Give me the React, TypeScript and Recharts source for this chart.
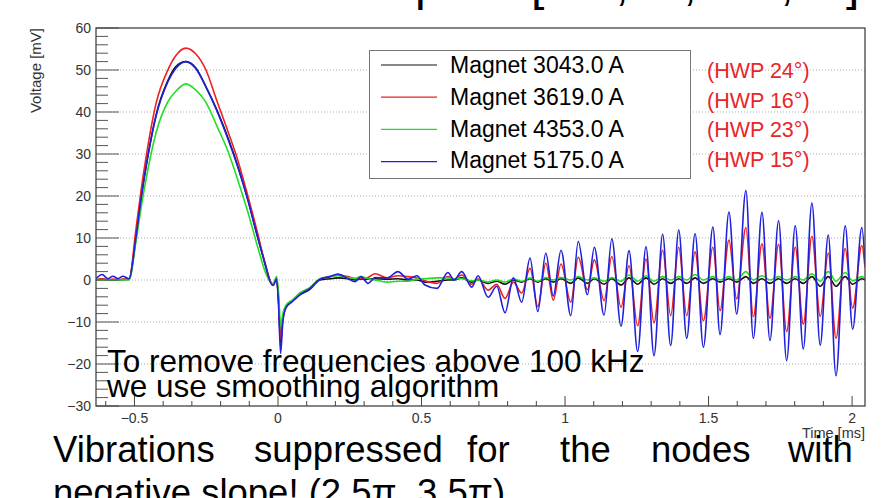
import React from "react";
import { CartesianGrid, Line, LineChart, XAxis, YAxis } from "recharts";

// time axis [ms], shared by all four traces
const timeMs = [
  -0.634, -0.613, -0.592, -0.575, -0.557, -0.54, -0.519,
  -0.495, -0.477, -0.453, -0.425, -0.383, -0.355, -0.321, -0.286, -0.251, -0.213, -0.174, -0.139, -0.105, -0.07, -0.042,
  -0.028, -0.017, -0.005, 0.002, 0.009, 0.017, 0.028, 0.049, 0.077, 0.111, 0.146,
  0.181, 0.209, 0.244, 0.268, 0.289, 0.314, 0.338, 0.38, 0.418, 0.453, 0.484, 0.512, 0.554, 0.592, 0.613,
  0.64, 0.675, 0.697, 0.732, 0.762, 0.791, 0.82, 0.849, 0.878, 0.905,
  0.933, 0.959, 0.986, 1.02, 1.046, 1.078, 1.102, 1.136, 1.163, 1.195,
  1.223, 1.253, 1.282, 1.31, 1.34, 1.368, 1.396, 1.424, 1.453, 1.482,
  1.515, 1.54, 1.571, 1.598, 1.63, 1.656, 1.686, 1.714, 1.744, 1.772,
  1.802, 1.83, 1.86, 1.889, 1.917, 1.944, 1.976, 2.002, 2.034, 2.045,
];

// voltage [mV]
const magnet3043 = [
  0, 0.2, 0, 0, 0, 0.1, 0.2,
  10, 19.4, 29.6, 39.2, 47.6, 50.9, 52, 50.5, 46, 40.5, 33.8, 26.9, 19.2, 10, 3.3,
  -0.2, -1.2, 0.3, -5, -15, -9, -6.5, -5, -3.5, -2.2, 0,
  0.3, 0.5, 0.3, 0, 0.2, 0.2, 0.3, 0.2, 0.3, 0, 0, -0.5, -0.3, 0, 0,
  0.5, -0.5, 0, -0.8, -0.3, -1, 0, -0.5, 0.3, -0.5,
  0.3, -0.5, 0.3, -0.8, 0.5, -0.8, 0.3, -1, 0.3, -1.2,
  0.5, -1, 0.5, -1, 0.3, -0.8, 0.3, -0.8, 0.5, -0.8,
  0.3, -0.5, 0.3, -0.5, 0.8, -0.8, 0.3, -0.8, 0.3, -0.8,
  0.3, -0.8, 0.8, -1.5, 0.8, -1.5, 0.8, -1, 0.3, 0,
];

const magnet3619 = [
  0, 0.3, 0, 0.2, 0, 0.2, 0.2,
  12, 21.3, 32, 42, 50.1, 53.5, 55.2, 53.8, 50, 42.7, 35.3, 28.3, 20, 10.9, 3,
  0, -1, 0.3, -5, -14, -9, -6.5, -5, -3.3, -2, 0.2,
  0.8, 1.2, 0.8, 0.3, 0.3, 0.6, 1.5, 0.5, 1, 0.8, 0.5, -0.2, -0.8, 0.8, 0.2,
  1.2, -1, 0.3, -2.4, -1, -4.4, -0.5, -3.1, 2.8, -6.3,
  4, -4.8, 3.8, -5.3, 5.4, -2.3, 4.8, -4.9, 5.6, -6.5,
  3.4, -10.9, 5, -10.2, 7.1, -8.5, 7.8, -8.5, 6.7, -9.7,
  7.8, -7.3, 9.5, -4.5, 12.5, -8.7, 8.6, -9.1, 8.5, -12.3,
  7.8, -10.5, 10.4, -8.7, 6.4, -13.9, 7.5, -6.7, 8.2, 3,
];

const magnet4353 = [
  0, 0, 0, 0, 0, 0, 0,
  9, 17.2, 26.4, 35, 42.5, 45, 46.7, 45.2, 42.3, 36.7, 30.6, 23.6, 16.2, 7.7, 1.5,
  -0.3, -1, 0.8, -3, -11, -8, -6, -4.8, -3, -1.8, 0.3,
  0.8, 1, 0.6, 0.4, 0.8, 0.3, 0, -0.5, -0.3, -0.3, 0.2, 0.3, 0.5, 0.5, 0.3,
  0.3, -0.2, 0, -0.5, 0, -0.5, 0.3, -0.3, 0.5, -0.3,
  0.6, 0, 0.6, 0, 0.8, 0, 0.5, -0.3, 0.6, -0.3,
  1.2, -0.3, 1, -0.3, 0.8, 0, 0.8, 0, 1.3, 0,
  0.8, 0, 0.8, 0, 2, 0, 1, 0, 0.8, 0,
  0.8, 0, 1.5, -0.3, 2, -0.3, 1.8, -0.2, 0.8, 0.3,
];

const magnet5175 = [
  0.3, 1.3, 0.3, 0.9, 0.3, 0.9, 0.3,
  10, 19.4, 29.6, 39, 47.3, 50.5, 52, 50.3, 46, 40.3, 33.5, 26.7, 19, 10, 3,
  -0.3, -1.3, 0.2, -6, -17.5, -10, -6.5, -5.2, -3.5, -2, 0.2,
  0.8, 1.4, 0.3, -0.4, 0.8, -0.8, 0.6, 0.5, 2, 0.2, 1, -1.2, -2, 1.8, 0,
  2, -1.7, 1, -4.1, -1.5, -7.8, 0.5, -5.3, 5.2, -7.5,
  6.4, -3.8, 7.1, -8.5, 9.2, -3.5, 7.8, -8.4, 9.8, -11,
  7, -17, 7.9, -18, 10.9, -15.6, 11.9, -13.9, 11, -16,
  12.6, -13, 16.2, -8.1, 21.3, -13.9, 16.1, -14.4, 14.1, -19.2,
  12.9, -16.4, 18.3, -15.5, 10.7, -22.8, 12.9, -11.7, 12.5, 4,
];

const seriesKeys = ["m3043", "m3619", "m4353", "m5175"];
const seriesNames = ["Magnet 3043.0 A", "Magnet 3619.0 A", "Magnet 4353.0 A", "Magnet 5175.0 A"];
const seriesColors = ["#111111", "#ee2020", "#22dd22", "#2020dd"];
const hwpLabels = ["(HWP 24°)", "(HWP 16°)", "(HWP 23°)", "(HWP 15°)"];

const xTicks = [
  -0.6, -0.5, -0.4, -0.3, -0.2, -0.1, 0, 0.1, 0.2, 0.3, 0.4, 0.5, 0.6, 0.7, 0.8, 0.9, 1,
  1.1, 1.2, 1.3, 1.4, 1.5, 1.6, 1.7, 1.8, 1.9, 2,
];
const yTicks = [
  -30, -28, -26, -24, -22, -20, -18, -16, -14, -12, -10, -8, -6, -4, -2, 0, 2, 4, 6, 8, 10,
  12, 14, 16, 18, 20, 22, 24, 26, 28, 30, 32, 34, 36, 38, 40, 42, 44, 46, 48, 50, 52, 54, 56, 58, 60,
];
const gridValues = [-20, -10, 0, 10, 20, 30, 40, 50];

const rows = timeMs.map((t, i) => ({
  t,
  m3043: magnet3043[i],
  m3619: magnet3619[i],
  m4353: magnet4353[i],
  m5175: magnet5175[i],
}));

const FONT = "'Liberation Sans', Arial, sans-serif";

const fmt = (v: number) => (v < 0 ? "\u2212" + String(Math.abs(v)) : String(v));

function XTick(props: any) {
  const { x, y, payload } = props;
  const v = payload.value;
  const major = Math.abs(v * 2 - Math.round(v * 2)) < 1e-6;
  return (
    <g>
      <line x1={x} x2={x} y1={y} y2={y - (major ? 10 : 5)} stroke="#444" strokeWidth={1} />
      {major && (
        <text x={x} y={y + 17} textAnchor="middle" fontSize={14} fill="#333" fontFamily={FONT}>
          {fmt(v)}
        </text>
      )}
    </g>
  );
}

function YTick(props: any) {
  const { x, y, payload } = props;
  const v = payload.value;
  const major = v % 10 === 0;
  return (
    <g>
      <line x1={x} x2={x + (major ? 23 : 12)} y1={y} y2={y} stroke="#555" strokeWidth={1} />
      {major && (
        <text x={x - 5} y={y + 5} textAnchor="end" fontSize={14} fill="#333" fontFamily={FONT}>
          {fmt(v)}
        </text>
      )}
    </g>
  );
}

export default function App() {
  return (
    <div
      style={{
        position: "fixed",
        left: 0,
        top: 0,
        width: 885,
        height: 498,
        overflow: "hidden",
        background: "#fff",
      }}
    >
      <LineChart width={885} height={498} data={rows} margin={{ top: 28, right: 20, bottom: 62, left: 0 }}>
        <CartesianGrid
          vertical={false}
          horizontalValues={gridValues}
          stroke="#aaa"
          strokeDasharray="1 2"
        />
        <XAxis
          dataKey="t"
          type="number"
          domain={[-0.634, 2.045]}
          allowDataOverflow
          ticks={xTicks}
          interval={0}
          tick={<XTick />}
          tickLine={false}
          axisLine={false}
          tickSize={0}
          tickMargin={0}
          height={30}
        />
        <YAxis
          type="number"
          domain={[-30, 60]}
          allowDataOverflow
          ticks={yTicks}
          interval={0}
          tick={<YTick />}
          tickLine={false}
          axisLine={false}
          tickSize={0}
          tickMargin={0}
          width={96}
        />
        {seriesKeys.map((k, i) => (
          <Line
            key={k}
            type="monotone"
            dataKey={k}
            name={seriesNames[i]}
            stroke={seriesColors[i]}
            strokeWidth={1.6}
            dot={false}
            isAnimationActive={false}
          />
        ))}
      </LineChart>

      <svg
        width={885}
        height={498}
        style={{ position: "absolute", left: 0, top: 0, pointerEvents: "none" }}
        fontFamily={FONT}
      >
        {/* frame */}
        <rect x={96} y={28} width={769} height={378} fill="none" stroke="#444" strokeWidth={1.3} />

        {/* slide title, cut off at the top */}
        <g fontSize={48} fill="#000">
          <text x={415} y={0}>p</text>
          <text x={531} y={0}>[</text>
          <text x={622} y={0} textAnchor="middle">,</text>
          <text x={690} y={0} textAnchor="middle">,</text>
          <text x={787} y={0} textAnchor="middle">,</text>
          <text x={846} y={0}>]</text>
        </g>

        {/* axis titles */}
        <text transform="rotate(-90)" x={-28} y={41} textAnchor="end" fontSize={15} fill="#333">
          Voltage [mV]
        </text>
        <text x={865} y={438} textAnchor="end" fontSize={14.5} fill="#333">
          Time [ms]
        </text>

        {/* legend */}
        <rect x={369.5} y={50.5} width={321} height={128} fill="#fff" stroke="#777" strokeWidth={1} />
        {seriesNames.map((n, i) => (
          <g key={n}>
            <line x1={381} x2={437} y1={65 + i * 32.2} y2={65 + i * 32.2} stroke={seriesColors[i]} strokeWidth={1.2} />
            <text x={450} y={73 + i * 31.8} fontSize={23} fill="#000">
              {n}
            </text>
            <text x={707} y={78 + i * 29.5} fontSize={21.5} fill="#e8262a">
              {hwpLabels[i]}
            </text>
          </g>
        ))}

        {/* note inside the plot */}
        <g fontSize={31.5} fill="#000">
          <text x={107} y={372}>To remove frequencies above 100 kHz</text>
          <text x={107} y={397}>we use smoothing algorithm</text>
        </g>

        {/* slide text below */}
        <g fontSize={36.5} fill="#000">
          <text x={53} y={462}>Vibrations</text>
          <text x={254} y={462}>suppressed</text>
          <text x={467} y={462}>for</text>
          <text x={560} y={462}>the</text>
          <text x={651} y={462}>nodes</text>
          <text x={788} y={462}>with</text>
          <text x={53} y={505}>negative slope! (2.5π, 3.5π)</text>
        </g>
      </svg>
    </div>
  );
}
